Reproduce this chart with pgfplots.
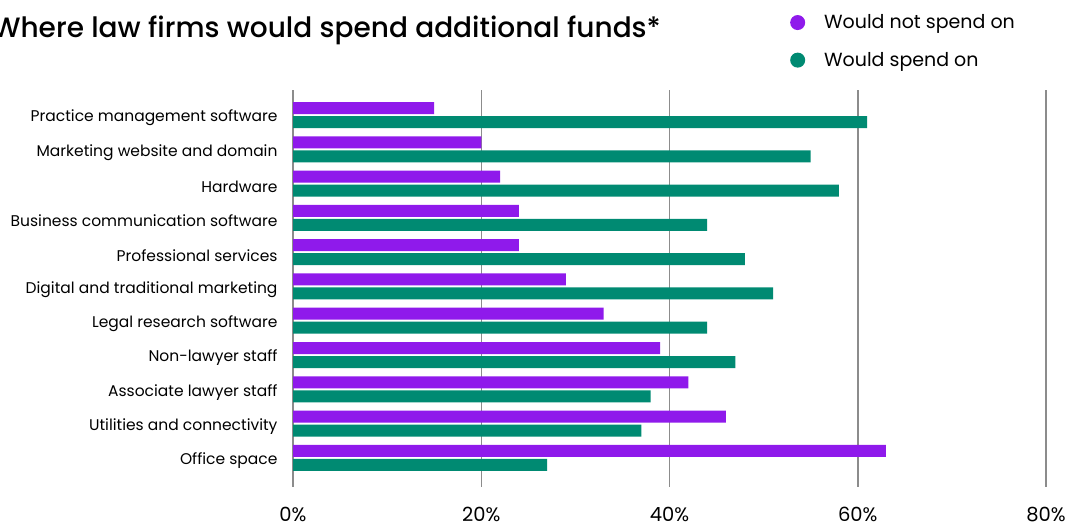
\documentclass[border=0pt]{standalone}
\usepackage{pgfplots}
\pgfplotsset{compat=1.18}
\usepackage{fontspec}
\setmainfont{Poppins}
\newfontfamily\titlefont{Poppins Medium}
\definecolor{cpurple}{RGB}{143,26,235}
\definecolor{cgreen}{RGB}{0,138,114}
\definecolor{cgrid}{RGB}{140,140,140}
\begin{document}
\begin{tikzpicture}[x=1pt,y=1pt]
\useasboundingbox (0,0) rectangle (1078,527);
\clip (0,0) rectangle (1078,527);
\node[anchor=base east, inner sep=0pt, font=\titlefont\fontsize{28}{34}\selectfont] at (661,489) {Where law firms would spend additional funds*};
\begin{axis}[
  at={(293pt,40pt)}, anchor=south west,
  scale only axis, width=753pt, height=397pt,
  xbar, bar width=12pt,
  xmin=0, xmax=80, ymin=-0.85, ymax=10.73,
  xtick={0,20,40,60,80},
  xticklabels={0\%,20\%,40\%,60\%,80\%},
  ytick={0,1,2,3,4,5,6,7,8,9,10},
  yticklabels={Office space,Utilities and connectivity,Associate lawyer staff,Non-lawyer staff,Legal research software,Digital and traditional marketing,Professional services,Business communication software,Hardware,Marketing website and domain,Practice management software},
  xmajorgrids, grid style={cgrid, line width=1.5pt},
  axis line style={draw=none},
  major tick length=0pt,
  xticklabel style={font=\fontsize{19.5}{22}\selectfont, yshift=-17pt},
  yticklabel style={font=\fontsize{15.5}{18}\selectfont, xshift=-12pt, yshift=-3pt},
  legend style={draw=none, fill=none, at={(0.66,1.195)}, anchor=north west,
    font=\fontsize{19}{22}\selectfont, row sep=18pt, inner sep=0pt,
    /tikz/every even column/.append style={column sep=0pt}},
  legend cell align=left,
  legend image code/.code={\fill[#1] (3pt,0pt) circle (7.5pt);},
]
\addplot[fill=cpurple, draw=none, bar shift=7pt] coordinates {
(63,0) (46,1) (42,2) (39,3) (33,4) (29,5) (24,6) (24,7) (22,8) (20,9) (15,10)};
\addplot[fill=cgreen, draw=none, bar shift=-7pt] coordinates {
(27,0) (37,1) (38,2) (47,3) (44,4) (51,5) (48,6) (44,7) (58,8) (55,9) (61,10)};
\legend{\hspace{17pt}Would not spend on,\hspace{17pt}Would spend on}
\end{axis}
\end{tikzpicture}
\end{document}
